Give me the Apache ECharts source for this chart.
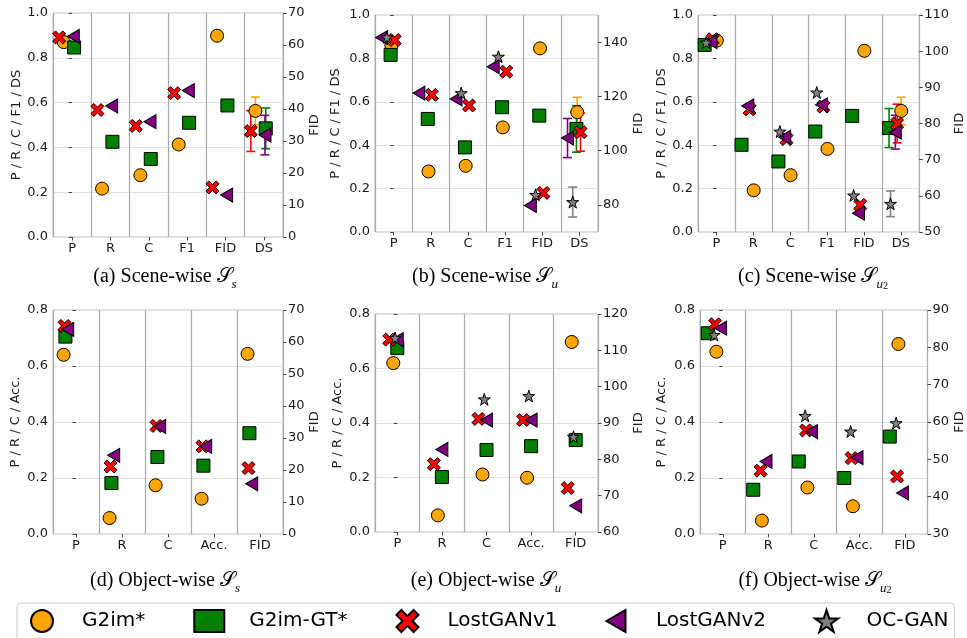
<!DOCTYPE html>
<html><head><meta charset="utf-8">
<script src="https://cdn.jsdelivr.net/npm/echarts@6/dist/echarts.min.js"></script>
<style>html,body{margin:0;padding:0;background:#fff}#c{width:967px;height:638px}</style>
</head><body><div id="c"></div>
<script>
// ---------- data ----------
const models = ['G2im*', 'G2im-GT*', 'LostGANv1', 'LostGANv2', 'OC-GAN'];
const sceneCats = ['P', 'R', 'C', 'F1', 'FID', 'DS'];
const objectCats = ['P', 'R', 'C', 'Acc.', 'FID'];

// (a) Scene-wise S_s   (FID entry in FID units, others in [0,1])
const a_g2im = [0.870, 0.216, 0.276, 0.413, 62.9, 0.563];
const a_gt   = [0.846, 0.425, 0.348, 0.510, 41.1, 0.485];
const a_v1   = [0.891, 0.567, 0.496, 0.642, 15.5, 0.473];
const a_v2   = [0.896, 0.585, 0.515, 0.654, 13.1, 0.455];
const a_dsErr = [0.062, 0.091, 0.091, 0.088, null];

// (b) Scene-wise S_u
const b_g2im = [0.860, 0.279, 0.305, 0.482, 137.7, 0.552];
const b_gt   = [0.816, 0.521, 0.390, 0.575, 112.9, 0.475];
const b_v1   = [0.885, 0.632, 0.583, 0.739, 84.4, 0.460];
const b_v2   = [0.896, 0.640, 0.613, 0.762, 79.8, 0.433];
const b_oc   = [0.897, null, 0.640, 0.808, 83.7, 0.138];
const b_dsErr = [0.069, 0.107, 0.088, 0.090, 0.069];

// (c) Scene-wise S_u2
const c_g2im = [0.882, 0.192, 0.262, 0.383, 100.1, 0.558];
const c_gt   = [0.862, 0.402, 0.325, 0.463, 82.1, 0.479];
const c_v1   = [0.888, 0.565, 0.428, 0.578, 57.5, 0.500];
const c_v2   = [0.877, 0.581, 0.437, 0.586, 55.2, 0.460];
const c_oc   = [0.873, null, 0.463, 0.643, 60.1, 0.130];
const c_dsErr = [0.063, 0.090, 0.089, 0.078, 0.059];

// (d) Object-wise S_s
const d_g2im = [0.640, 0.057, 0.174, 0.126, 56.3];
const d_gt   = [0.705, 0.182, 0.275, 0.244, 31.5];
const d_v1   = [0.743, 0.241, 0.386, 0.313, 20.6];
const d_v2   = [0.731, 0.281, 0.384, 0.313, 15.7];

// (e) Object-wise S_u
const e_g2im = [0.620, 0.061, 0.211, 0.199, 112.3];
const e_gt   = [0.675, 0.202, 0.301, 0.315, 85.3];
const e_v1   = [0.706, 0.249, 0.415, 0.411, 72.1];
const e_v2   = [0.706, 0.303, 0.411, 0.411, 67.2];
const e_oc   = [0.712, null, 0.487, 0.499, 86.2];

// (f) Object-wise S_u2
const f_g2im = [0.651, 0.048, 0.166, 0.099, 80.9];
const f_gt   = [0.717, 0.158, 0.259, 0.200, 56.1];
const f_v1   = [0.749, 0.226, 0.370, 0.271, 45.4];
const f_v2   = [0.735, 0.259, 0.366, 0.273, 41.0];
const f_oc   = [0.711, null, 0.422, 0.366, 59.7];

// ---------- layout / style ----------
const X_PATH = 'path://M31.8,45.9L14.1,63.6L0,49.5L17.7,31.8L0,14.1L14.1,0L31.8,17.7L49.5,0L63.6,14.1L45.9,31.8L63.6,49.5L49.5,63.6Z';
const TRI_PATH = 'path://M0,50L86.6,0L86.6,100Z';
const STAR_PATH = 'path://M50,0L61.23,34.55L97.55,34.55L68.17,55.9L79.39,90.45L50,69.1L20.61,90.45L31.83,55.9L2.45,34.55L38.77,34.55Z';
const styles = [
  {symbol: 'circle', size: 13, color: '#FFA500'},
  {symbol: 'rect', size: 13, color: '#008000'},
  {symbol: X_PATH, size: 13, color: '#FF0000'},
  {symbol: TRI_PATH, size: [12, 14], color: '#800080'},
  {symbol: STAR_PATH, size: 12, color: '#808080'}
];
const SANS = "'DejaVu Sans', sans-serif";
const SERIF = "'Liberation Serif', 'DejaVu Serif', serif";

const panels = [
  {cats: sceneCats, vals: [a_g2im, a_gt, a_v1, a_v2, null], err: a_dsErr, off: [-0.22, 0.05, -0.34, 0.03, 0],
   yMax: 1, rMin: 0, rMax: 70, rInt: 10, yName: 'P / R / C / F1 / DS',
   grid: {left: 53, top: 13, width: 230, height: 224}, lGap: 30, rGap: 24,
   cap: ['(a) Scene-wise ', 's', null], capX: 165, capY: 277},
  {cats: sceneCats, vals: [b_g2im, b_gt, b_v1, b_v2, b_oc], err: b_dsErr, off: [-0.06, -0.08, 0.03, -0.32, -0.18],
   yMax: 1, rMin: 70, rMax: 150, rTicks: [80, 100, 120, 140], yName: 'P / R / C / F1 / DS',
   grid: {left: 375, top: 15, width: 223, height: 217}, lGap: 33, rGap: 33,
   cap: ['(b) Scene-wise ', 'u', null], capX: 485, capY: 277},
  {cats: sceneCats, vals: [c_g2im, c_gt, c_v1, c_v2, c_oc], err: c_dsErr, off: [0.01, -0.32, -0.10, -0.15, -0.28],
   yMax: 1, rMin: 50, rMax: 110, rInt: 10, yName: 'P / R / C / F1 / DS',
   grid: {left: 698, top: 15, width: 225, height: 217}, lGap: 30, rGap: 30,
   cap: ['(c) Scene-wise ', 'u', '2'], capX: 813, capY: 277},
  {cats: objectCats, vals: [d_g2im, d_gt, d_v1, d_v2, null], err: null, off: [-0.27, -0.23, -0.25, -0.18, 0],
   yMax: 0.8, rMin: 0, rMax: 70, rInt: 10, yName: 'P / R / C / Acc.',
   grid: {left: 53, top: 310, width: 230, height: 224}, lGap: 31, rGap: 24,
   cap: ['(d) Object-wise ', 's', null], capX: 165, capY: 581},
  {cats: objectCats, vals: [e_g2im, e_gt, e_v1, e_v2, e_oc], err: null, off: [-0.09, 0.0, -0.18, 0.0, -0.05],
   yMax: 0.8, rMin: 60, rMax: 120, rInt: 10, yName: 'P / R / C / Acc.',
   grid: {left: 375, top: 314, width: 223, height: 218}, lGap: 31, rGap: 33,
   cap: ['(e) Object-wise ', 'u', null], capX: 486, capY: 581},
  {cats: objectCats, vals: [f_g2im, f_gt, f_v1, f_v2, f_oc], err: null, off: [-0.14, -0.33, -0.17, -0.05, -0.19],
   yMax: 0.8, rMin: 30, rMax: 90, rInt: 10, yName: 'P / R / C / Acc.',
   grid: {left: 700, top: 310, width: 230, height: 224}, lGap: 32, rGap: 24,
   cap: ['(f) Object-wise ', 'u', '2'], capX: 815, capY: 581}
];

const grids = [], xAxes = [], yAxes = [], series = [], graphics = [];
const tickLabel = {fontFamily: SANS, fontSize: 13, color: '#1a1a1a'};

panels.forEach((p, k) => {
  grids.push(Object.assign({show: true, borderColor: '#bdbdbd', borderWidth: 1, backgroundColor: '#fff'}, p.grid));
  const n = p.cats.length;
  xAxes.push({gridIndex: k, type: 'category', data: p.cats, boundaryGap: true, position: 'bottom',
    axisLine: {show: false}, axisTick: {show: true, alignWithLabel: true, length: 3.5, lineStyle: {color: '#444'}},
    axisLabel: Object.assign({margin: 5, interval: 0}, tickLabel),
    splitLine: {show: true, lineStyle: {color: '#a9a9a9', width: 1.2}}});
  xAxes.push({gridIndex: k, type: 'value', min: -0.5, max: n - 0.5, show: false});
  yAxes.push({gridIndex: k, type: 'value', position: 'left', min: 0, max: p.yMax, interval: 0.2,
    axisLine: {show: false}, axisTick: {show: true, length: 3.5, lineStyle: {color: '#444'}},
    axisLabel: Object.assign({margin: 5, formatter: v => v.toFixed(1)}, tickLabel),
    splitLine: {show: true, lineStyle: {color: '#e2e2e2', width: 1}},
    name: p.yName, nameLocation: 'middle', nameGap: p.lGap, nameRotate: 90,
    nameTextStyle: {fontFamily: SANS, fontSize: 13, color: '#1a1a1a'}});
  const ry = {gridIndex: k, type: 'value', position: 'right', min: p.rMin, max: p.rMax,
    axisLine: {show: false}, axisTick: {show: true, length: 3.5, lineStyle: {color: '#444'}},
    axisLabel: Object.assign({margin: 5}, tickLabel),
    splitLine: {show: false},
    name: 'FID', nameLocation: 'middle', nameGap: p.rGap, nameRotate: 90,
    nameTextStyle: {fontFamily: SANS, fontSize: 13, color: '#1a1a1a'}};
  if (p.rTicks) {
    ry.interval = 10;
    ry.axisLabel.customValues = p.rTicks;
    ry.axisTick.customValues = p.rTicks;
  } else {
    ry.interval = p.rInt;
  }
  yAxes.push(ry);

  const fidIdx = p.cats.indexOf('FID');
  const dsIdx = p.cats.indexOf('DS');
  // error bars (drawn below markers)
  if (p.err && dsIdx >= 0) {
    p.vals.forEach((vals, m) => {
      if (!vals || p.err[m] == null || vals[dsIdx] == null) return;
      const col = styles[m].color;
      series.push({type: 'custom', name: 'err-' + models[m], xAxisIndex: 2 * k + 1, yAxisIndex: 2 * k, z: 1,
        data: [[dsIdx + p.off[m], vals[dsIdx], p.err[m]]],
        renderItem: (params, api) => {
          const x = api.value(0), y = api.value(1), e = api.value(2);
          const t = api.coord([x, y + e]), b = api.coord([x, y - e]);
          const cw = 4.5, st = {stroke: col, lineWidth: 1.6};
          return {type: 'group', children: [
            {type: 'line', shape: {x1: t[0], y1: t[1], x2: b[0], y2: b[1]}, style: st},
            {type: 'line', shape: {x1: t[0] - cw, y1: t[1], x2: t[0] + cw, y2: t[1]}, style: st},
            {type: 'line', shape: {x1: b[0] - cw, y1: b[1], x2: b[0] + cw, y2: b[1]}, style: st}
          ]};
        }});
    });
  }
  p.vals.forEach((vals, m) => {
    if (!vals) return;
    const left = [], right = [];
    vals.forEach((v, i) => {
      if (v == null) return;
      (i === fidIdx ? right : left).push([i + p.off[m], v]);
    });
    const base = {type: 'scatter', name: models[m], xAxisIndex: 2 * k + 1, symbol: styles[m].symbol,
      symbolSize: styles[m].size, z: 3 + m, clip: false,
      itemStyle: {color: styles[m].color, borderColor: '#000', borderWidth: 1, opacity: 1},
      emphasis: {disabled: true}};
    series.push(Object.assign({}, base, {yAxisIndex: 2 * k, data: left}));
    series.push(Object.assign({}, base, {yAxisIndex: 2 * k + 1, data: right}));
  });

  // caption
  const [pre, sub, sup] = p.cap;
  let txt = '{m|' + pre + '}{s|\uD835\uDCAE}{b|' + sub + '}';
  if (sup) txt += '{p|' + sup + '}';
  graphics.push({type: 'text', x: p.capX, y: p.capY, style: {
    text: txt, align: 'center', verticalAlign: 'middle',
    rich: {
      m: {fontFamily: SERIF, fontSize: 20, lineHeight: 28, verticalAlign: 'middle', fill: '#000'},
      s: {fontFamily: SERIF, fontSize: 20, lineHeight: 28, verticalAlign: 'middle', fill: '#000'},
      b: {fontFamily: SERIF, fontStyle: 'italic', fontSize: 13, lineHeight: 14, verticalAlign: 'bottom', fill: '#000'},
      p: {fontFamily: SERIF, fontSize: 10, lineHeight: 22, verticalAlign: 'bottom', fill: '#000'}
    }}});
});

const chart = echarts.init(document.getElementById('c'), null, {renderer: 'canvas'});
chart.setOption({
  backgroundColor: '#fff',
  animation: false,
  grid: grids,
  xAxis: xAxes,
  yAxis: yAxes,
  series: series,
  graphic: graphics,
  legend: {data: models, left: 17, top: 603, orient: 'horizontal', itemWidth: 30, itemHeight: 22, itemGap: 48,
    padding: [6, 6, 24, 13], borderColor: '#cccccc', borderWidth: 1, borderRadius: 4, backgroundColor: '#fff',
    selectedMode: false,
    itemStyle: {borderColor: '#000', borderWidth: 2},
    textStyle: {fontFamily: SANS, fontSize: 20, color: '#000', padding: [0, 0, 0, 20]}}
});
</script>
</body></html>
